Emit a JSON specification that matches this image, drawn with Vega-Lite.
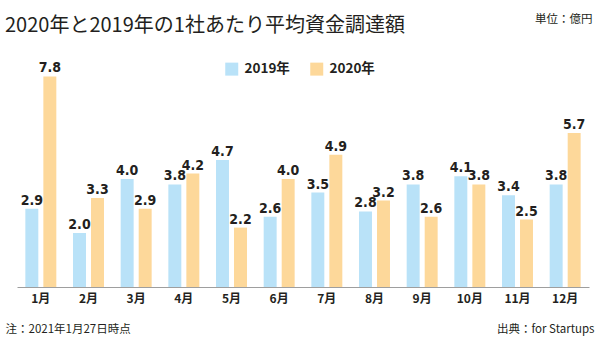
{
  "$schema": "https://vega.github.io/schema/vega-lite/v6.json",
  "autosize": "none",
  "width": 572,
  "height": 216,
  "padding": {"left": 17, "top": 71, "right": 11, "bottom": 63},
  "background": "white",
  "config": {
    "view": {"stroke": null},
    "font": "Noto Sans CJK JP",
    "text": {"color": "#231f20"}
  },
  "title": {
    "text": "2020年と2019年の1社あたり平均資金調達額",
    "anchor": "start",
    "frame": "group",
    "font": "Noto Sans CJK JP",
    "fontSize": 20,
    "fontWeight": "normal",
    "color": "#231f20",
    "baseline": "alphabetic",
    "offset": -39,
    "dx": -12
  },
  "data": {
    "values": [
      {"month": "1月", "year": "2019年", "value": 2.9},
      {"month": "1月", "year": "2020年", "value": 7.8},
      {"month": "2月", "year": "2019年", "value": 2.0},
      {"month": "2月", "year": "2020年", "value": 3.3},
      {"month": "3月", "year": "2019年", "value": 4.0},
      {"month": "3月", "year": "2020年", "value": 2.9},
      {"month": "4月", "year": "2019年", "value": 3.8},
      {"month": "4月", "year": "2020年", "value": 4.2},
      {"month": "5月", "year": "2019年", "value": 4.7},
      {"month": "5月", "year": "2020年", "value": 2.2},
      {"month": "6月", "year": "2019年", "value": 2.6},
      {"month": "6月", "year": "2020年", "value": 4.0},
      {"month": "7月", "year": "2019年", "value": 3.5},
      {"month": "7月", "year": "2020年", "value": 4.9},
      {"month": "8月", "year": "2019年", "value": 2.8},
      {"month": "8月", "year": "2020年", "value": 3.2},
      {"month": "9月", "year": "2019年", "value": 3.8},
      {"month": "9月", "year": "2020年", "value": 2.6},
      {"month": "10月", "year": "2019年", "value": 4.1},
      {"month": "10月", "year": "2020年", "value": 3.8},
      {"month": "11月", "year": "2019年", "value": 3.4},
      {"month": "11月", "year": "2020年", "value": 2.5},
      {"month": "12月", "year": "2019年", "value": 3.8},
      {"month": "12月", "year": "2020年", "value": 5.7}
    ]
  },
  "encoding": {
    "x": {
      "field": "month",
      "type": "nominal",
      "sort": null,
      "scale": {"paddingInner": 0.35, "paddingOuter": 0.175},
      "axis": {
        "title": "出典：for Startups",
        "titleX": 577,
        "titleY": 42,
        "titleAlign": "right",
        "titleBaseline": "middle",
        "titleFont": "Noto Sans CJK JP",
        "titleFontSize": 11.5,
        "titleFontWeight": "normal",
        "titleColor": "#231f20",
        "labelAngle": 0,
        "labelFont": "Noto Sans CJK JP",
        "labelFontSize": 12,
        "labelFontWeight": "bold",
        "labelColor": "#231f20",
        "labelPadding": 6,
        "ticks": false,
        "domainColor": "#9e9e9e",
        "domainWidth": 1
      }
    },
    "xOffset": {
      "field": "year",
      "type": "nominal",
      "scale": {"paddingInner": 0.28, "paddingOuter": 0}
    },
    "y": {
      "field": "value",
      "type": "quantitative",
      "scale": {"domain": [0, 8], "nice": false}
    }
  },
  "layer": [
    {
      "mark": {"type": "bar"},
      "encoding": {
        "color": {
          "field": "year",
          "type": "nominal",
          "scale": {"domain": ["2019年", "2020年"], "range": ["#b9e2f8", "#fdd89a"]},
          "legend": {
            "title": null,
            "orient": "none",
            "direction": "horizontal",
            "legendX": 208,
            "legendY": -9,
            "symbolType": "square",
            "symbolSize": 169,
            "symbolStrokeWidth": 0,
            "symbolOpacity": 1,
            "labelFont": "Noto Sans CJK JP",
            "labelFontSize": 13.5,
            "labelFontWeight": "bold",
            "labelColor": "#231f20",
            "columnPadding": 20,
            "labelOffset": 6
          }
        },
        "y": {
          "field": "value",
          "type": "quantitative",
          "axis": {
            "orient": "left",
            "title": "注：2021年1月27日時点",
            "titleAngle": 0,
            "titleX": -12,
            "titleY": 258,
            "titleAlign": "left",
            "titleBaseline": "middle",
            "titleFont": "Noto Sans CJK JP",
            "titleFontSize": 11.5,
            "titleFontWeight": "normal",
            "titleColor": "#231f20",
            "labels": false,
            "ticks": false,
            "domain": false,
            "grid": false
          }
        }
      }
    },
    {
      "mark": {
        "type": "text",
        "baseline": "alphabetic",
        "dy": -4,
        "font": "DejaVu Sans Condensed, Roboto, sans-serif",
        "fontSize": 14,
        "fontWeight": "bold",
        "color": "#231f20"
      },
      "encoding": {
        "text": {"field": "value", "type": "quantitative", "format": ".1f"},
        "y": {
          "field": "value",
          "type": "quantitative",
          "axis": {
            "orient": "right",
            "title": "単位：億円",
            "titleAngle": 0,
            "titleX": 3,
            "titleY": -52,
            "titleAlign": "right",
            "titleBaseline": "middle",
            "titleFont": "Noto Sans CJK JP",
            "titleFontSize": 11.5,
            "titleFontWeight": "normal",
            "titleColor": "#231f20",
            "labels": false,
            "ticks": false,
            "domain": false,
            "grid": false
          }
        }
      }
    }
  ],
  "resolve": {"axis": {"y": "independent"}}
}
